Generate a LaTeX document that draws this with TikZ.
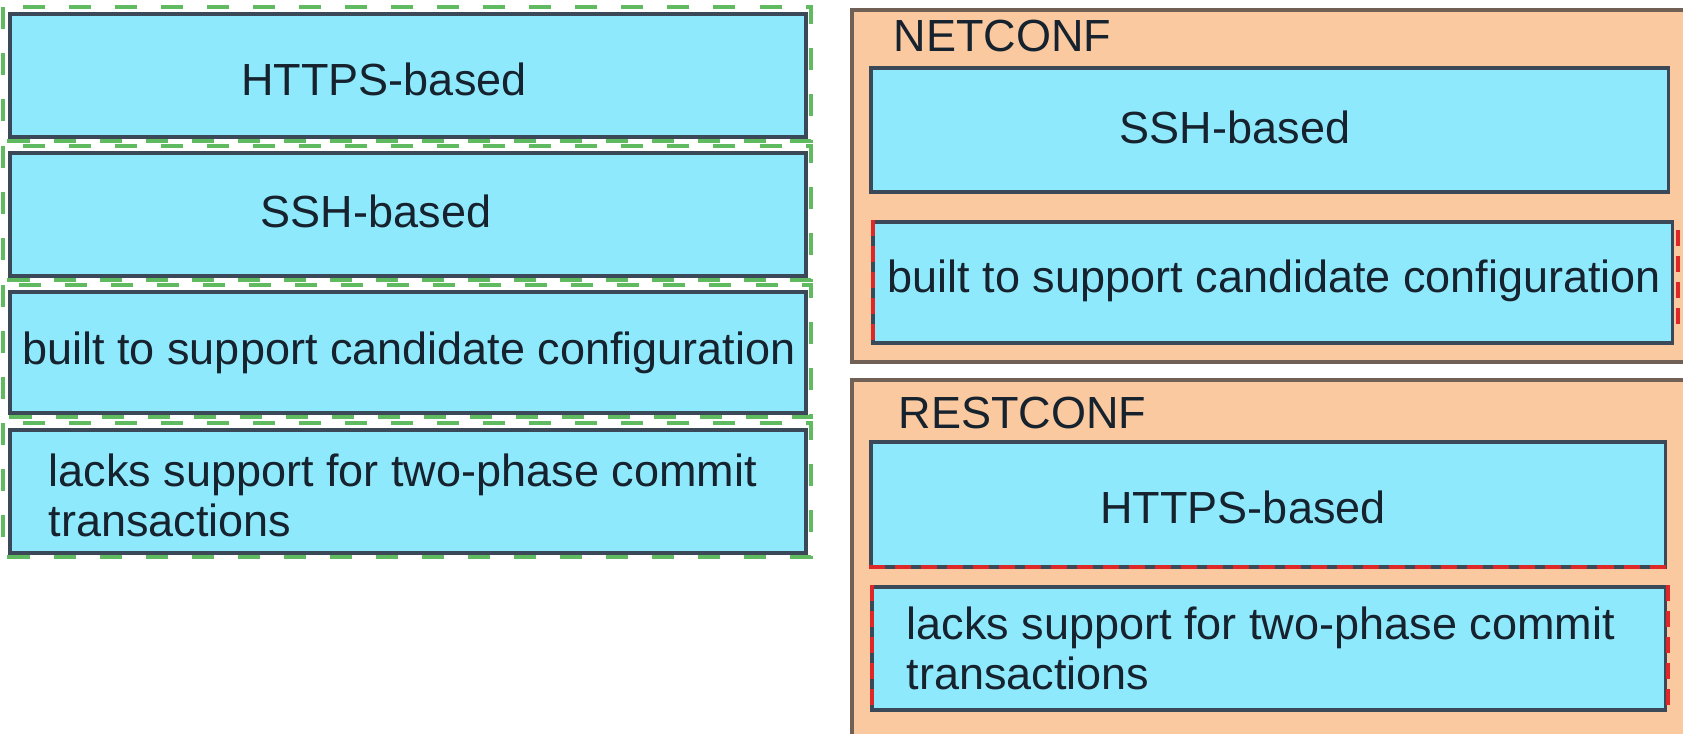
\documentclass[tikz,border=0pt]{standalone}
\usepackage{fontspec}
\setmainfont{Liberation Sans}
\definecolor{cardfill}{RGB}{143,233,252}
\definecolor{cardline}{RGB}{58,72,88}
\definecolor{groupfill}{RGB}{250,201,160}
\definecolor{groupline}{RGB}{112,96,86}
\definecolor{glowgreen}{RGB}{96,186,96}
\definecolor{markred}{RGB}{222,40,40}
\definecolor{textdark}{RGB}{22,34,46}
\begin{document}
\begin{tikzpicture}[x=0.01cm,y=-0.01cm,
	card/.style={draw=cardline,line width=1pt,fill=cardfill,inner sep=0pt},
	group/.style={draw=groupline,line width=1pt,fill=groupfill,inner sep=0pt},
	glow/.style={draw=glowgreen,line width=1.3pt,dash pattern=on 0.22cm off 0.24cm},
	redmark/.style={draw=markred,line width=1pt,dash pattern=on 0.16cm off 0.1cm},
	lbl/.style={font=\fontsize{12.8}{14}\selectfont,inner sep=0pt,text=textdark,align=left}]

	\useasboundingbox[fill=white] (0,0) rectangle (1683,734);

		\node[card,minimum width=7.96cm,minimum height=1.23cm] (lhttps) at (408,75.5){};
		\node[card,minimum width=7.96cm,minimum height=1.23cm] (lssh) at (408,214.5){};
		\node[card,minimum width=7.96cm,minimum height=1.21cm] (lbuilt) at (408,352.5){};
		\node[card,minimum width=7.96cm,minimum height=1.23cm] (llacks) at (408,491.5){};

		\foreach \n in {lhttps,lssh,lbuilt,llacks}
			\draw[glow] ([xshift=-0.05cm,yshift=0.05cm]\n.north west) rectangle ([xshift=0.03cm,yshift=-0.02cm]\n.south east);

		\node[lbl,anchor=base] (lhttpstext) at (384,96){HTTPS-based};
		\node[lbl,anchor=base] (lsshtext) at (376,228){SSH-based};
		\node[lbl,anchor=base] (lbuilttext) at (409,365){built to support candidate configuration};
		\node[lbl,anchor=base west] (llackstext) at (48,536){lacks support for two-phase commit\\transactions};

		\node[group,minimum width=8.38cm,minimum height=3.52cm] (netconf) at (1271,186){};
		\node[group,minimum width=8.38cm,minimum height=3.65cm] (restconf) at (1271,562.5){};

		\node[lbl,anchor=base west] (netconftext) at (893,52){NETCONF};
		\node[card,minimum width=7.97cm,minimum height=1.24cm] (rssh) at (1269.5,130){};
		\node[card,minimum width=7.99cm,minimum height=1.21cm] (rbuilt) at (1272.5,282.5){};
		\node[lbl,anchor=base] (rsshtext) at (1235,144){SSH-based};
		\node[lbl,anchor=base] (rbuilttext) at (1274.5,293){built to support candidate configuration};

		\node[lbl,anchor=base west] (restconftext) at (898,429){RESTCONF};
		\node[card,minimum width=7.94cm,minimum height=1.25cm] (rhttps) at (1268,504.5){};
		\node[card,minimum width=7.93cm,minimum height=1.23cm] (rlacks) at (1268.5,648.5){};
		\node[lbl,anchor=base] (rhttpstext) at (1243,523){HTTPS-based};
		\node[lbl,anchor=base west] (rlackstext) at (906,689){lacks support for two-phase commit\\transactions};

		\draw[redmark] ([xshift=0.02cm]rbuilt.north west) -- ([xshift=0.02cm]rbuilt.south west);
		\draw[redmark] ([xshift=0.04cm,yshift=-0.1cm]rbuilt.north east) -- ([xshift=0.04cm,yshift=0.2cm]rbuilt.south east);
		\draw[redmark] ([yshift=0.02cm]rhttps.south west) -- ([yshift=0.02cm]rhttps.south east);
		\draw[redmark] ([xshift=0.02cm]rlacks.north west) -- ([xshift=0.02cm]rlacks.south west);
		\draw[redmark] ([xshift=0.01cm]rlacks.north east) -- ([xshift=0.01cm]rlacks.south east);

\end{tikzpicture}
\end{document}
